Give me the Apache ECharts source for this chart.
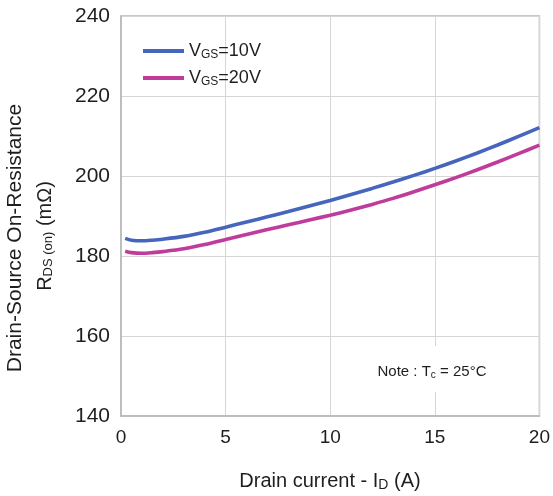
<!DOCTYPE html>
<html>
<head>
<meta charset="utf-8">
<script src="https://cdn.jsdelivr.net/npm/echarts@6/dist/echarts.min.js"></script>
<style>
  html, body { margin: 0; padding: 0; background: #fff; }
  #chart { width: 553px; height: 496px; }
</style>
</head>
<body>
<div id="chart"></div>
<script>
// Drain current (A)
const drainCurrent = [0.2, 0.5, 1, 1.5, 2, 3, 4, 5, 6, 7, 8, 9, 10, 11, 12, 13, 14, 15, 16, 17, 18, 19, 20];
// On-resistance (mΩ) at VGS = 10 V
const rdsVgs10 = [184.4, 183.95, 183.8, 183.95, 184.2, 184.9, 185.95, 187.2, 188.5, 189.8, 191.1, 192.5, 193.9,
                  195.4, 196.9, 198.5, 200.15, 201.9, 203.75, 205.7, 207.75, 209.9, 212.1];
// On-resistance (mΩ) at VGS = 20 V
const rdsVgs20 = [181.2, 180.85, 180.7, 180.85, 181.1, 181.8, 182.85, 184.1, 185.4, 186.6, 187.8, 189.0, 190.2,
                  191.5, 192.9, 194.4, 196.05, 197.8, 199.6, 201.5, 203.5, 205.6, 207.7];

const seriesNames = ['VGS=10V', 'VGS=20V'];
const seriesColors = ['#4666BE', '#C03C9C'];
const xTicks = [0, 5, 10, 15, 20];
const yTicks = [140, 160, 180, 200, 220, 240];

const FONT = 'Liberation Sans, Arial, sans-serif';
const INK = '#1e1e1e';
const chart = echarts.init(document.getElementById('chart'));

const pair = (xs, ys) => xs.map((x, i) => [x, ys[i]]);

chart.setOption({
  animation: false,
  backgroundColor: '#fff',
  grid: { left: 121, right: 12, top: 16, bottom: 80, show: true, borderColor: '#b8b8b8', borderWidth: 1.5 },
  legend: {
    left: 138, top: 37, orient: 'vertical', itemGap: 8,
    itemWidth: 41, itemHeight: 4, icon: 'rect',
    data: seriesNames,
    formatter: name => '{v|V}{s|' + name.slice(1, 3) + '}{v|' + name.slice(3) + '}',
    textStyle: {
      rich: {
        v: { fontFamily: FONT, fontSize: 18, color: INK },
        s: { fontFamily: FONT, fontSize: 12, color: INK, padding: [8, 0, 0, 0] }
      }
    }
  },
  xAxis: {
    type: 'value', min: xTicks[0], max: xTicks[xTicks.length - 1], interval: 5,
    axisLine: { show: true, lineStyle: { color: '#b8b8b8', width: 1.5 } },
    axisTick: { show: false },
    splitLine: { show: true, lineStyle: { color: '#d6d6d6', width: 1 } },
    axisLabel: { fontFamily: FONT, fontSize: 19, color: INK, margin: 12 }
  },
  yAxis: {
    type: 'value', min: yTicks[0], max: yTicks[yTicks.length - 1], interval: 20,
    axisLine: { show: true, lineStyle: { color: '#b8b8b8', width: 1.5 } },
    axisTick: { show: false },
    splitLine: { show: true, lineStyle: { color: '#d6d6d6', width: 1 } },
    axisLabel: { fontFamily: FONT, fontSize: 21, color: INK, margin: 11 }
  },
  series: [
    {
      name: seriesNames[0], type: 'line', smooth: 0.3, symbol: 'none',
      data: pair(drainCurrent, rdsVgs10),
      itemStyle: { color: seriesColors[0] },
      lineStyle: { color: seriesColors[0], width: 3.6 }, z: 3
    },
    {
      name: seriesNames[1], type: 'line', smooth: 0.3, symbol: 'none',
      data: pair(drainCurrent, rdsVgs20),
      itemStyle: { color: seriesColors[1] },
      lineStyle: { color: seriesColors[1], width: 3.6 }, z: 3
    }
  ],
  graphic: [
    // white panel behind the test-condition note
    { type: 'rect', left: 352, top: 346, shape: { width: 150, height: 46 }, style: { fill: '#fff' }, z: 2 },
    {
      type: 'text', x: 432, y: 372, z: 4,
      style: {
        text: '{n|Note : T}{s|c}{n| = 25°C}',
        align: 'center', verticalAlign: 'middle',
        rich: {
          n: { fontFamily: FONT, fontSize: 15, fill: INK },
          s: { fontFamily: FONT, fontSize: 10, fill: INK, padding: [6, 0, 0, 0] }
        }
      }
    },
    {
      type: 'text', x: 330, y: 481, z: 4,
      style: {
        text: '{n|Drain current - I}{s|D}{n| (A)}',
        align: 'center', verticalAlign: 'middle',
        rich: {
          n: { fontFamily: FONT, fontSize: 20, fill: INK },
          s: { fontFamily: FONT, fontSize: 14, fill: INK, padding: [8, 0, 0, 0] }
        }
      }
    },
    {
      type: 'text', x: 15, y: 238, rotation: Math.PI / 2, z: 4,
      style: {
        text: 'Drain-Source On-Resistance',
        align: 'center', verticalAlign: 'middle',
        fontFamily: FONT, fontSize: 21, fill: INK
      }
    },
    {
      type: 'text', x: 45, y: 236, rotation: Math.PI / 2, z: 4,
      style: {
        text: '{n|R}{s|DS (on)}{n| (mΩ)}',
        align: 'center', verticalAlign: 'middle',
        rich: {
          n: { fontFamily: FONT, fontSize: 20, fill: INK },
          s: { fontFamily: FONT, fontSize: 13, fill: INK, padding: [7, 0, 0, 0] }
        }
      }
    }
  ]
});
</script>
</body>
</html>
